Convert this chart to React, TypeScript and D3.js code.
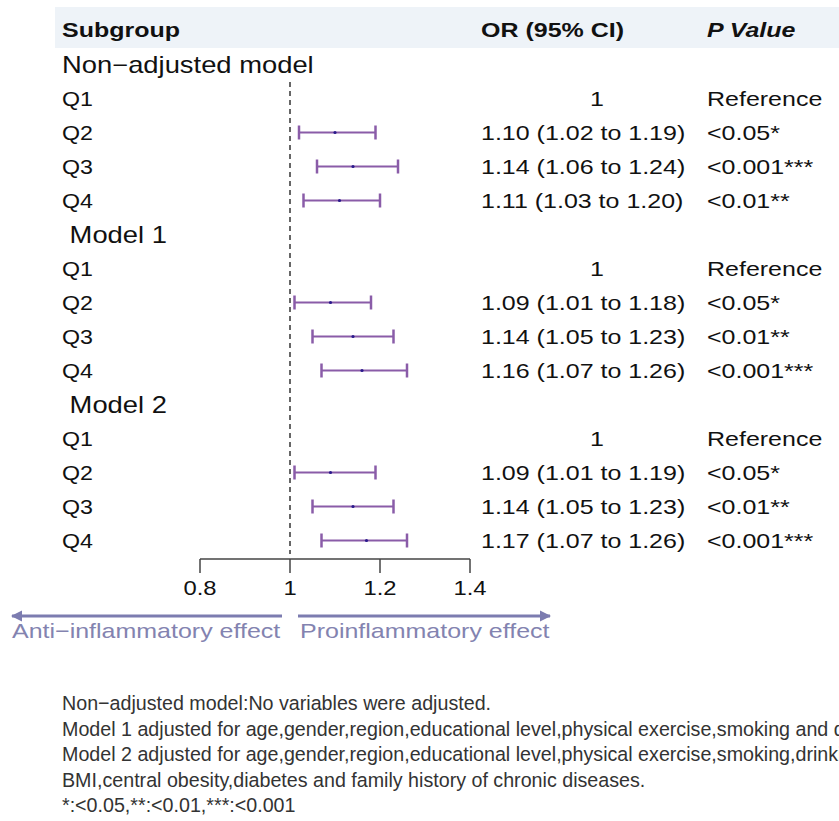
import React from "react";
import * as d3 from "d3";

// ---- data ----
const groupLabels = ["Non−adjusted model", " Model 1", " Model 2"];
const quartiles = ["Q1", "Q2", "Q3", "Q4"];

const nonAdjOR = [1, 1.10, 1.14, 1.11];
const nonAdjLow = [null, 1.02, 1.06, 1.03];
const nonAdjHigh = [null, 1.19, 1.24, 1.20];
const nonAdjP = ["Reference", "<0.05*", "<0.001***", "<0.01**"];

const model1OR = [1, 1.09, 1.14, 1.16];
const model1Low = [null, 1.01, 1.05, 1.07];
const model1High = [null, 1.18, 1.23, 1.26];
const model1P = ["Reference", "<0.05*", "<0.01**", "<0.001***"];

const model2OR = [1, 1.09, 1.14, 1.17];
const model2Low = [null, 1.01, 1.05, 1.07];
const model2High = [null, 1.19, 1.23, 1.26];
const model2P = ["Reference", "<0.05*", "<0.01**", "<0.001***"];

const axisTicks = [0.8, 1, 1.2, 1.4];
const headers = ["Subgroup", "OR (95% CI)", "P Value"];
const effectLabels = ["Anti−inflammatory effect", "Proinflammatory effect"];
const footnotes = [
  "Non−adjusted model:No variables were adjusted.",
  "Model 1 adjusted for age,gender,region,educational level,physical exercise,smoking and drinking.",
  "Model 2 adjusted for age,gender,region,educational level,physical exercise,smoking,drinking,",
  "BMI,central obesity,diabetes and family history of chronic diseases.",
  "*:<0.05,**:<0.01,***:<0.001",
];

const models = [
  { label: groupLabels[0], or: nonAdjOR, lo: nonAdjLow, hi: nonAdjHigh, p: nonAdjP },
  { label: groupLabels[1], or: model1OR, lo: model1Low, hi: model1High, p: model1P },
  { label: groupLabels[2], or: model2OR, lo: model2Low, hi: model2High, p: model2P },
];

// ---- layout ----
const W = 839;
const H = 821;
const SX = 1.19;
const FONT = "'Liberation Sans', Arial, Helvetica, sans-serif";

const x = d3.scaleLinear().domain([0.8, 1.4]).range([200, 470]);
const rowY = (i: number) => 64.5 + 34 * i;

type TxtProps = {
  x: number;
  y: number;
  size: number;
  anchor?: string;
  weight?: string | number;
  italic?: boolean;
  fill?: string;
  sx?: number;
  children: React.ReactNode;
};
const Txt = ({ x, y, size, anchor = "start", weight = "normal", italic = false, fill = "#111", sx = SX, children }: TxtProps) => (
  <text
    transform={`translate(${x},${y}) scale(${sx},1)`}
    textAnchor={anchor}
    fontSize={size}
    fontWeight={weight}
    fontStyle={italic ? "italic" : "normal"}
    fill={fill}
    fontFamily={FONT}
    style={{ whiteSpace: "pre" }}
  >
    {children}
  </text>
);

export default function App() {
  const rows: React.ReactNode[] = [];
  let r = 0;
  const ciColor = "#8a5ca8";
  models.forEach((m, gi) => {
    rows.push(
      <Txt key={`g${gi}`} x={62} y={rowY(r) + 8} size={23}>
        {m.label}
      </Txt>
    );
    r++;
    quartiles.forEach((q, qi) => {
      const cy = rowY(r);
      const lo = m.lo[qi];
      const hi = m.hi[qi];
      const est = m.or[qi];
      rows.push(
        <g key={`r${gi}-${qi}`}>
          <Txt x={62} y={cy + 7} size={19.5}>{q}</Txt>
          {lo == null ? (
            <Txt x={597} y={cy + 7} size={21} anchor="middle">{String(est)}</Txt>
          ) : (
            <Txt x={481} y={cy + 7} size={21}>
              {`${est.toFixed(2)} (${lo.toFixed(2)} to ${(hi as number).toFixed(2)})`}
            </Txt>
          )}
          <Txt x={707} y={cy + 7} size={21}>{m.p[qi]}</Txt>
          {lo != null && hi != null && (
            <g>
              <line x1={x(lo)} x2={x(hi)} y1={cy} y2={cy} stroke={ciColor} strokeWidth={2} />
              <line x1={x(lo)} x2={x(lo)} y1={cy - 7} y2={cy + 7} stroke={ciColor} strokeWidth={2.5} />
              <line x1={x(hi)} x2={x(hi)} y1={cy - 7} y2={cy + 7} stroke={ciColor} strokeWidth={2.5} />
              <circle cx={x(est)} cy={cy} r={1.6} fill="#2a1a8c" />
            </g>
          )}
        </g>
      );
      r++;
    });
  });

  const arrowColor = "#7c7cb0";
  const axisY = 559;
  const arrowY = 616;

  return (
    <div style={{ position: "absolute", left: 0, top: 0 }}>
      <svg width={W} height={H} viewBox={`0 0 ${W} ${H}`} style={{ display: "block", background: "#fff" }}>
        <defs>
          <marker id="ah" viewBox="0 0 10 10" refX="9" refY="5" markerWidth="3.8" markerHeight="3.8" orient="auto-start-reverse">
            <path d="M0,0 L10,5 L0,10 z" fill={arrowColor} />
          </marker>
        </defs>
        {/* header band */}
        <rect x={55} y={7} width={W - 55} height={41} fill="#eef3f8" />
        <Txt x={62} y={37} size={21} weight="bold">{headers[0]}</Txt>
        <Txt x={481} y={37} size={21} weight="bold">{headers[1]}</Txt>
        <Txt x={707} y={37} size={21} weight="bold" italic>{headers[2]}</Txt>

        {/* reference line */}
        <line x1={x(1)} x2={x(1)} y1={82} y2={554} stroke="#666" strokeWidth={2} strokeDasharray="5,4" />

        {rows}

        {/* axis */}
        <line x1={x(0.8)} x2={x(1.4)} y1={axisY} y2={axisY} stroke="#444" strokeWidth={1.5} />
        {axisTicks.map((t) => (
          <g key={t}>
            <line x1={x(t)} x2={x(t)} y1={axisY} y2={axisY + 14} stroke="#444" strokeWidth={1.5} />
            <Txt x={x(t)} y={595} size={20} anchor="middle">{d3.format("")(t)}</Txt>
          </g>
        ))}

        {/* effect arrows */}
        <line x1={282} x2={12} y1={arrowY} y2={arrowY} stroke={arrowColor} strokeWidth={3} markerEnd="url(#ah)" />
        <line x1={298} x2={550} y1={arrowY} y2={arrowY} stroke={arrowColor} strokeWidth={3} markerEnd="url(#ah)" />
        <Txt x={12} y={638} size={21} fill="#8383b0">{effectLabels[0]}</Txt>
        <Txt x={300} y={638} size={21} fill="#8383b0">{effectLabels[1]}</Txt>

        {/* footnotes */}
        {footnotes.map((f, i) => (
          <Txt key={i} x={62} y={710 + 25.6 * i} size={20.5} sx={0.96} fill="#333">{f}</Txt>
        ))}
      </svg>
    </div>
  );
}
